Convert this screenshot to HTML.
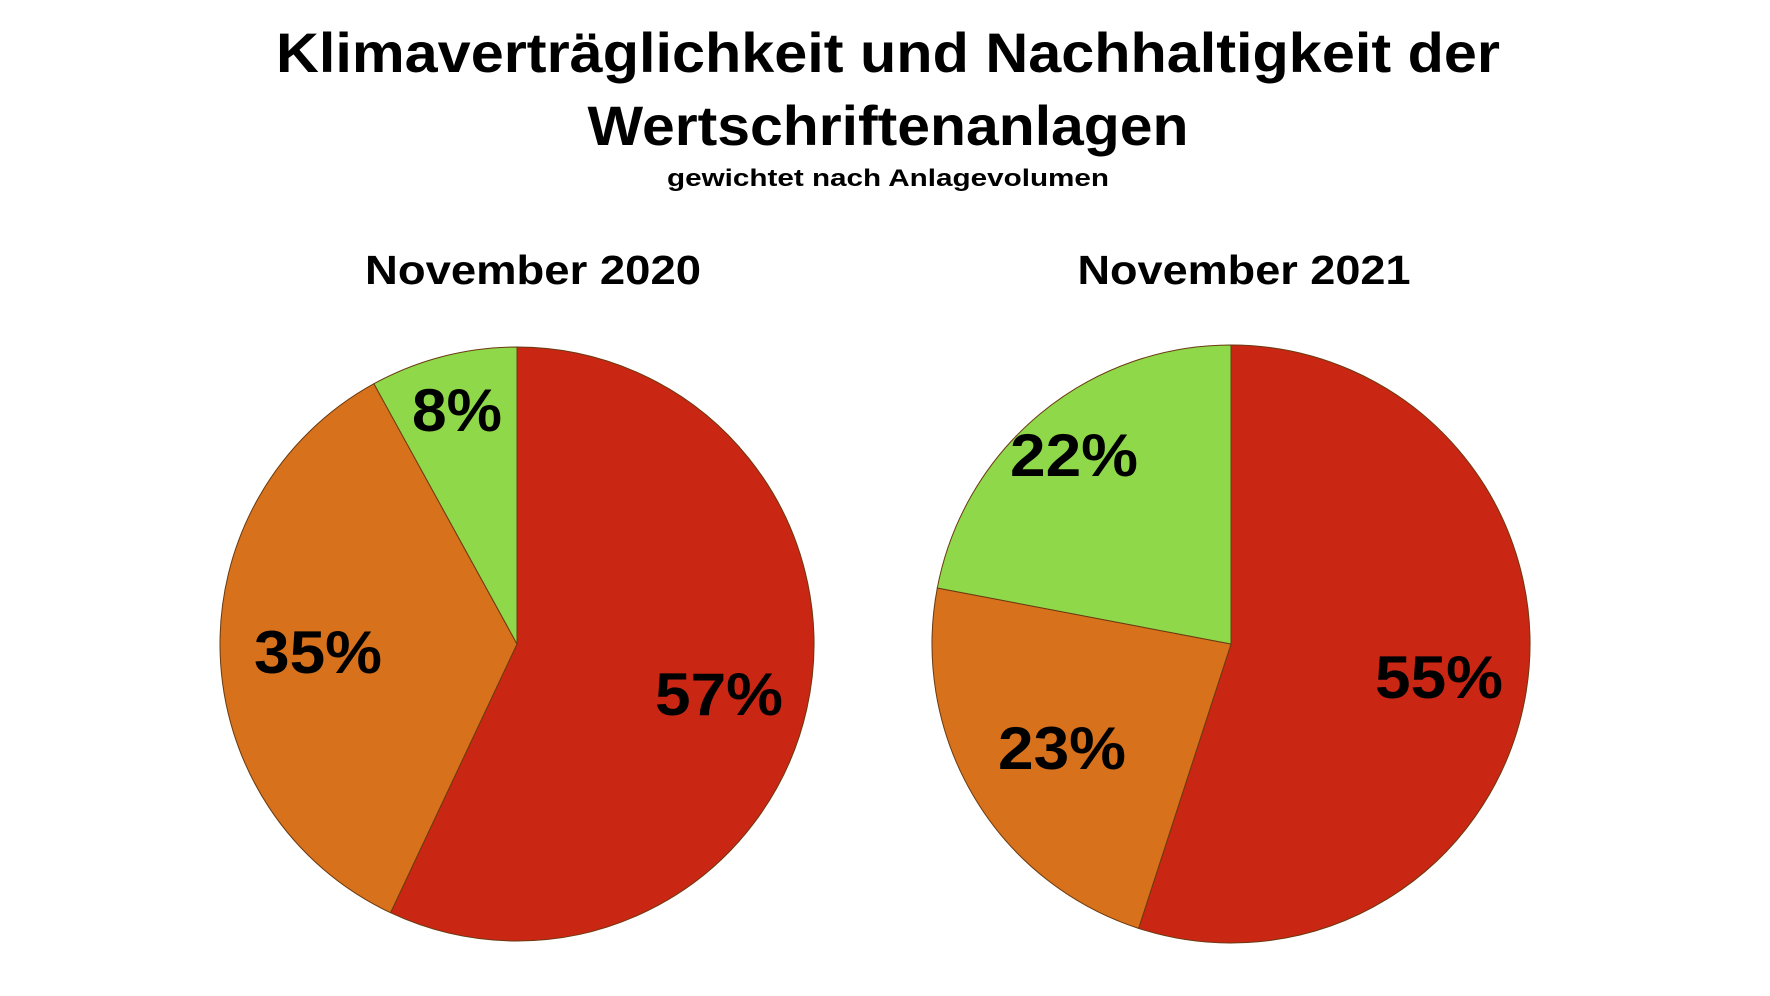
<!DOCTYPE html>
<html><head><meta charset="utf-8"><style>
html,body{margin:0;padding:0;background:#fff;}
body{width:1770px;height:991px;overflow:hidden;font-family:"Liberation Sans",sans-serif;}
</style></head><body>
<svg width="1770" height="991" viewBox="0 0 1770 991">
<g font-family="Liberation Sans, sans-serif" font-weight="bold" fill="#000" text-anchor="middle">
<text x="888" y="72" font-size="56" textLength="1224" lengthAdjust="spacingAndGlyphs">Klimaverträglichkeit und Nachhaltigkeit der</text>
<text x="888" y="145" font-size="56" textLength="601" lengthAdjust="spacingAndGlyphs">Wertschriftenanlagen</text>
<text x="888" y="186" font-size="24" textLength="442" lengthAdjust="spacingAndGlyphs">gewichtet nach Anlagevolumen</text>
<text x="533" y="284" font-size="41" textLength="336" lengthAdjust="spacingAndGlyphs">November 2020</text>
<text x="1244" y="284" font-size="41" textLength="333" lengthAdjust="spacingAndGlyphs">November 2021</text>
</g>
<g id="pies"></g>
</svg>
<script>
const categories = ["rot", "orange", "grün"];
const values2020 = [57, 35, 8];
const values2021 = [55, 23, 22];
const labels2020 = ["57%", "35%", "8%"];
const labels2021 = ["55%", "23%", "22%"];
const colors = ["#c92614", "#d8711b", "#8fd84a"];
const pies = [
  {cx:517, cy:644, r:297, vals:values2020, labels:labels2020, name:'pie-2020',
   lpos:[[719,715],[318,673],[457,431]]},
  {cx:1231, cy:644, r:299, vals:values2021, labels:labels2021, name:'pie-2021',
   lpos:[[1439,698],[1062,769],[1074,476]]}
];
const NS="http://www.w3.org/2000/svg";
const g=document.getElementById('pies');
pies.forEach(p=>{
  const total=p.vals.reduce((a,b)=>a+b,0);
  let a0=0;
  p.vals.forEach((v,i)=>{
    const a1=a0+v/total*2*Math.PI;
    const x0=p.cx+p.r*Math.sin(a0), y0=p.cy-p.r*Math.cos(a0);
    const x1=p.cx+p.r*Math.sin(a1), y1=p.cy-p.r*Math.cos(a1);
    const large=(a1-a0)>Math.PI?1:0;
    const path=document.createElementNS(NS,'path');
    path.setAttribute('d',`M${p.cx},${p.cy} L${x0},${y0} A${p.r},${p.r} 0 ${large} 1 ${x1},${y1} Z`);
    path.setAttribute('fill',colors[i]);
    path.setAttribute('stroke','#6a3a10');
    path.setAttribute('stroke-width','1');
    
    
    g.appendChild(path);
    a0=a1;
  });
  p.labels.forEach((l,i)=>{
    const t=document.createElementNS(NS,'text');
    t.setAttribute('x',p.lpos[i][0]);
    t.setAttribute('y',p.lpos[i][1]);
    t.setAttribute('font-size','60');
    t.setAttribute('font-weight','bold');
    t.setAttribute('font-family','Liberation Sans, sans-serif');
    t.setAttribute('text-anchor','middle');
    t.setAttribute('textLength', l.length===2?90:128);
    t.setAttribute('lengthAdjust','spacingAndGlyphs');
    t.textContent=l;
    
    
    g.appendChild(t);
  });
});
</script>
</body></html>
